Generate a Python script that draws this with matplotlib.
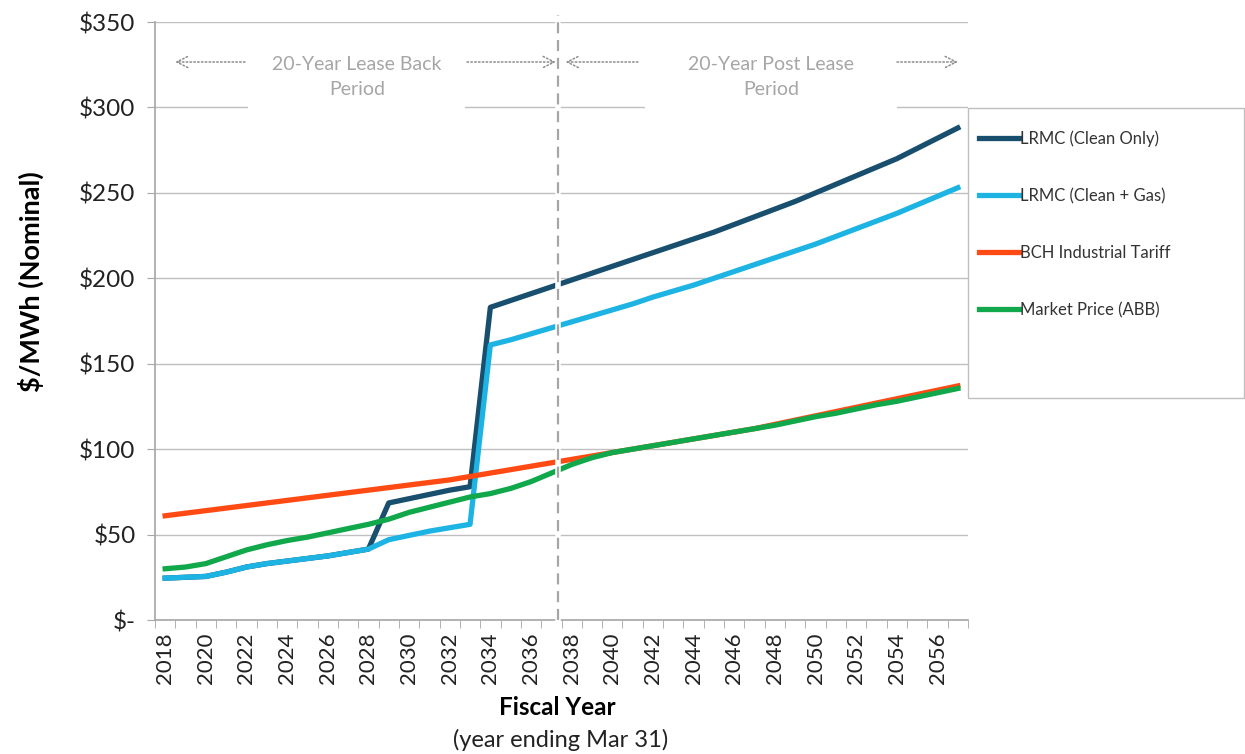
import numpy as np
import matplotlib
matplotlib.use("Agg")
import matplotlib.pyplot as plt
from matplotlib.patches import Rectangle
from matplotlib.ticker import FixedLocator, FuncFormatter

plt.rcParams['font.family'] = ['Lato', 'DejaVu Sans']

# ------------------ DATA ------------------
years = list(range(2018, 2058))

lrmc_clean_only = [24.5, 25, 25.5, 28, 31, 33, 34.5, 36, 37.5, 39.5, 41.5,
                   68.5, 71, 73.5, 76, 78,
                   183, 187, 191, 195, 199, 203, 207, 211, 215, 219, 223, 227,
                   231.5, 236, 240.5, 245, 250, 255, 260, 265, 270, 276, 282, 288]

lrmc_clean_gas = [24.5, 25, 25.5, 28, 31, 33, 34.5, 36, 37.5, 39.5, 41.5,
                  47, 49.5, 52, 54, 56,
                  161, 164, 167.5, 171, 174.5, 178, 181.5, 185, 189, 192.5, 196, 200,
                  204, 208, 212, 216, 220, 224.5, 229, 233.5, 238, 243, 248, 253]

bch_tariff = [61, 62.5, 64, 65.5, 67, 68.5, 70, 71.5, 73, 74.5, 76, 77.5, 79, 80.5,
              82, 84, 86, 88, 90, 92, 94, 96, 98, 100, 102, 104, 106, 108, 110, 112,
              114.5, 117, 119.5, 122, 124.5, 127, 129.5, 132, 134.5, 137]

market_price = [30, 31, 33, 37, 41, 44, 46.5, 48.5, 51, 53.5, 56, 59, 63, 66, 69, 72, 74,
                77, 81, 86, 91, 95, 98, 100, 102, 104, 106, 108, 110, 112, 114,
                116.5, 119, 121, 123.5, 126, 128, 130.5, 133, 135.5]

series_names = ["LRMC (Clean Only)", "LRMC (Clean + Gas)", "BCH Industrial Tariff", "Market Price (ABB)"]
series_colors = ["#184E6E", "#1DB4E4", "#FF4A14", "#10A84A"]

y_ticks = [0, 50, 100, 150, 200, 250, 300, 350]
period_labels = ["20-Year Lease Back\nPeriod", "20-Year Post Lease\nPeriod"]
lease_end = 2037.33

# ------------------ PLOT ------------------
fig = plt.figure(figsize=(12.45, 7.54), dpi=100)
ax = fig.add_axes([155 / 1245, 1 - 620 / 754, 813 / 1245, 598 / 754])

all_series = [lrmc_clean_only, lrmc_clean_gas, bch_tariff, market_price]
handles = []
# later series drawn on top, like the original spreadsheet chart
for vals, name, col in zip(all_series, series_names, series_colors):
    h, = ax.plot(years, vals, color=col, lw=3.8, label=name, zorder=3)
    handles.append(h)

ax.set_xlim(years[0] - 0.5, years[-1] + 0.5)
ax.set_ylim(0, 350)

ax.yaxis.set_major_locator(FixedLocator(y_ticks))
ax.yaxis.set_major_formatter(FuncFormatter(lambda v, p: "$-" if v == 0 else f"${v:.0f}"))
ax.set_xticks(years[::2])
ax.set_xticklabels([str(y) for y in years[::2]], rotation=90)
ax.set_xticks([y - 0.5 for y in years] + [years[-1] + 0.5], minor=True)

ax.tick_params(axis='x', which='major', length=0, pad=9, labelsize=16, colors='#222222')
ax.tick_params(axis='x', which='minor', length=6, color='#A6A6A6')
ax.tick_params(axis='y', which='major', length=6, pad=8, labelsize=17.5, color='#A6A6A6', labelcolor='#222222')

ax.grid(axis='y', color='#BFBFBF', lw=1, zorder=0)
ax.set_axisbelow(True)
for s in ['top', 'right']:
    ax.spines[s].set_visible(False)
for s in ['left', 'bottom']:
    ax.spines[s].set_color('#A6A6A6')
    ax.spines[s].set_linewidth(1.2)

ax.set_ylabel("$/MWh (Nominal)", fontsize=19.5, fontweight='bold')
ax.yaxis.set_label_coords(-(155 - 44) / 813, (620 - 282) / 598)
ax.set_xlabel("Fiscal Year", fontsize=17.5, fontweight='bold')
ax.xaxis.set_label_coords((557 - 155) / 813, -(696 - 620) / 598)
fig.text(561 / 1245, 1 - 740 / 754, "(year ending Mar 31)", ha='center', va='center', fontsize=17, color='#222222')

# lease boundary
ax.axvline(lease_end, ymin=0, ymax=1.012, color='white', lw=4, zorder=4, clip_on=False)
ax.axvline(lease_end, ymin=0, ymax=1.012, color='#A6A6A6', lw=1.6, ls=(0, (5, 3)), zorder=5, clip_on=False)

# period labels with white boxes and dotted arrows
for x0, x1 in [(0.1144, 0.3813), (0.6027, 0.9127)]:
    ax.add_patch(Rectangle((x0, 0.848), x1 - x0, 0.125, transform=ax.transAxes,
                           facecolor='white', edgecolor='none', zorder=2))
ax.text(0.2485, 0.9085, period_labels[0], transform=ax.transAxes, ha='center', va='center',
        fontsize=14, color='#A6A6A6', linespacing=1.55, zorder=6)
ax.text(0.7577, 0.9085, period_labels[1], transform=ax.transAxes, ha='center', va='center',
        fontsize=14, color='#A6A6A6', linespacing=1.55, zorder=6)

arrow_y = (620 - 62) / 598
arrows = [(0.1107, 0.0246), (0.3838, 0.4932), (0.5940, 0.5049), (0.9127, 0.9877)]
for xs, xe in arrows:
    ax.annotate("", xy=(xe, arrow_y), xytext=(xs, arrow_y), xycoords='axes fraction',
                arrowprops=dict(arrowstyle='->', color='#8C8C8C', lw=1.1, ls=(0, (1, 1.5)),
                                shrinkA=0, shrinkB=0, mutation_scale=20), zorder=6)

# legend box
fig.patches.append(Rectangle((968 / 1245, 1 - 398 / 754), 1 - 968 / 1245 - 0.001, 290 / 754,
                             transform=fig.transFigure, facecolor='white', edgecolor='#BFBFBF', lw=1))
fig.legend(handles, series_names, loc='upper left', bbox_to_anchor=(972 / 1245, 1 - 124 / 754),
           frameon=False, fontsize=12, handlelength=2.4, handletextpad=0.1, labelspacing=2.45,
           borderaxespad=0, labelcolor='#333333')

fig.savefig("out.png", dpi=100)
